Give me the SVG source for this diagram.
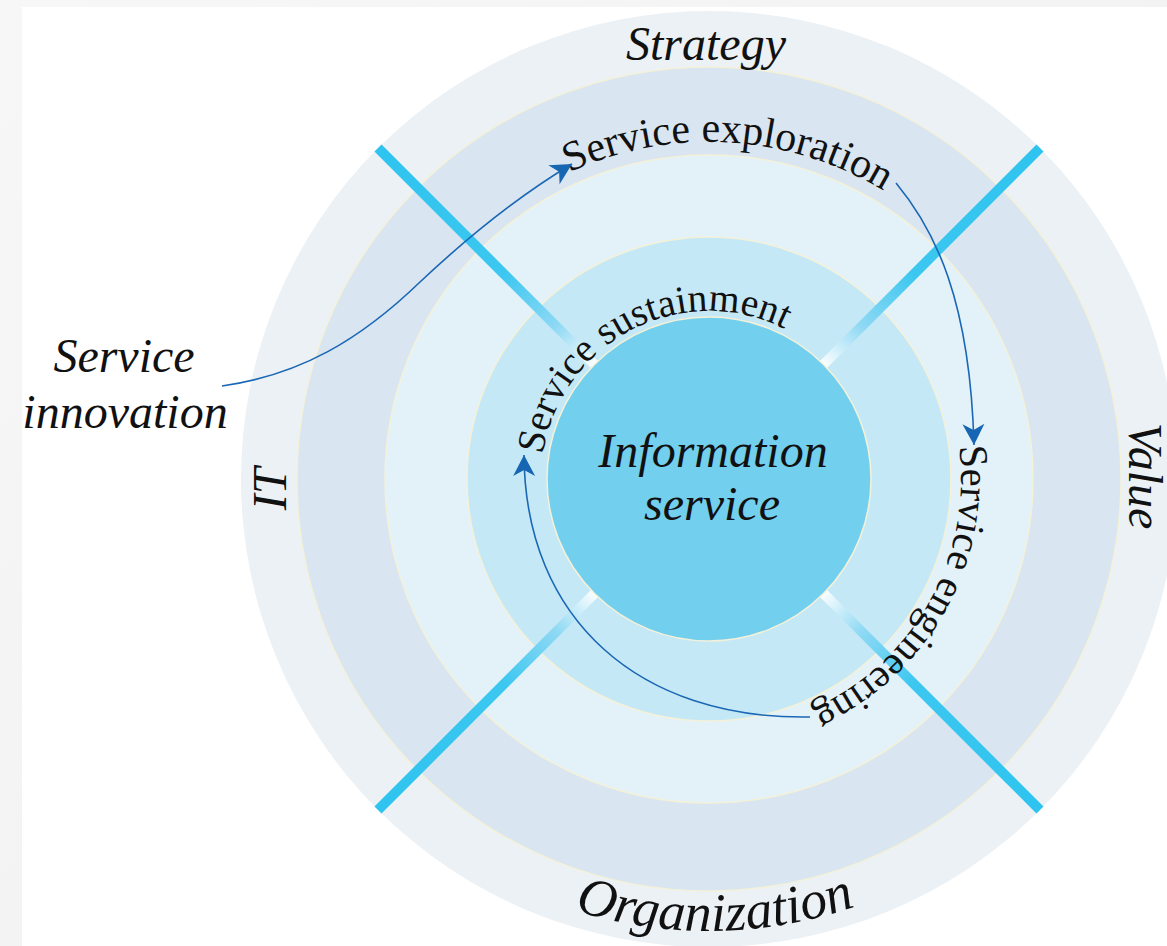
<svg xmlns="http://www.w3.org/2000/svg" width="1167" height="946" viewBox="0 0 1167 946">
<style>
.ring{stroke:#f4f1d9;stroke-width:1.5}
.xl{stroke:url(#xg);stroke-width:10;fill:none}
.lab{font-family:"Liberation Serif","Times New Roman",serif;font-style:italic;font-size:48px;fill:#111}
.arc{font-family:"Liberation Serif","Times New Roman",serif;fill:#111}
.con{fill:none;stroke:#1a67b5;stroke-width:1.6}
</style>
<defs>
<linearGradient id="bgl" x1="0" y1="0" x2="1" y2="1">
<stop offset="0" stop-color="#f7f7f7"/><stop offset="1" stop-color="#efefef"/>
</linearGradient>
<linearGradient id="xg" gradientUnits="userSpaceOnUse" x1="378" y1="148" x2="596" y2="366">
<stop offset="0" stop-color="#2ec4ef"/>
<stop offset="0.58" stop-color="#3cc7f0"/>
<stop offset="0.82" stop-color="#8fd9f4"/>
<stop offset="1" stop-color="#ffffff"/>
</linearGradient>
<marker id="ah" viewBox="-23 -12 24 24" refX="0" refY="0" markerWidth="24" markerHeight="24" markerUnits="userSpaceOnUse" orient="auto">
<path d="M0,0 L-21,-11 L-15,0 L-21,11 Z" fill="#1766b3"/>
</marker>
<path id="pExp" d="M569.2,172.3 A337,337 0 0 1 1040.9,420.5"/>
<path id="pSus" d="M542.8,454.5 A168,168 0 0 1 854.5,395"/>
<path id="pEng" d="M958.9,446.5 A252,252 0 0 1 622.8,715.8"/>
<path id="pOrg" d="M418.5,825.2 A452,452 0 0 0 999.5,825.2"/>
<line id="xline" x1="378" y1="148" x2="596" y2="366"/>
</defs>

<g id="background">
<rect x="0" y="0" width="1167" height="946" fill="url(#bgl)"/>
<rect x="22" y="7" width="1145" height="939" fill="#ffffff"/>
</g>

<g id="rings">
<circle cx="709" cy="479" r="468" fill="#ecf1f5"/>
<circle class="ring" cx="709" cy="479" r="412" fill="#d9e5f0"/>
<circle class="ring" cx="709" cy="479" r="324" fill="#e3f2f9"/>
<circle class="ring" cx="709" cy="479" r="242" fill="#c5e8f6"/>
</g>

<g id="cross">
<use href="#xline" class="xl"/>
<use href="#xline" class="xl" transform="rotate(90 709 479)"/>
<use href="#xline" class="xl" transform="rotate(180 709 479)"/>
<use href="#xline" class="xl" transform="rotate(270 709 479)"/>
</g>

<g id="node-information-service">
<circle class="ring" cx="709" cy="479" r="162" fill="#72cfee"/>
<text class="lab" x="713" y="467" text-anchor="middle">Information</text>
<text class="lab" x="712" y="520" text-anchor="middle">service</text>
</g>

<g id="node-strategy">
<text class="lab" x="706" y="60" text-anchor="middle">Strategy</text>
</g>

<g id="node-value">
<text class="lab" text-anchor="middle" transform="translate(1129,476) rotate(90)">Value</text>
</g>

<g id="node-it">
<text class="lab" text-anchor="middle" transform="translate(286,489) rotate(-90)">IT</text>
</g>

<g id="node-organization">
<text class="lab" style="font-size:54px"><textPath href="#pOrg" startOffset="51%" text-anchor="middle">Organization</textPath></text>
</g>

<g id="node-service-innovation">
<text class="lab" x="124" y="372" text-anchor="middle">Service</text>
<text class="lab" x="125" y="428" text-anchor="middle">innovation</text>
</g>

<g id="node-service-exploration">
<text class="arc" font-size="42"><textPath href="#pExp">Service exploration</textPath></text>
</g>

<g id="node-service-sustainment">
<text class="arc" font-size="39.5"><textPath href="#pSus">Service sustainment</textPath></text>
</g>

<g id="node-service-engineering">
<text class="arc" font-size="40.5"><textPath href="#pEng">Service engineering</textPath></text>
</g>

<g id="connectors">
<path class="con" d="M222,386 C300,375 360,340 420,282 C470,235 520,195 572,164" marker-end="url(#ah)"/>
<path class="con" d="M896,183 C935,230 970,300 974,445" marker-end="url(#ah)"/>
<path class="con" d="M810,717 C640,720 525,620 524,455" marker-end="url(#ah)"/>
</g>
</svg>
